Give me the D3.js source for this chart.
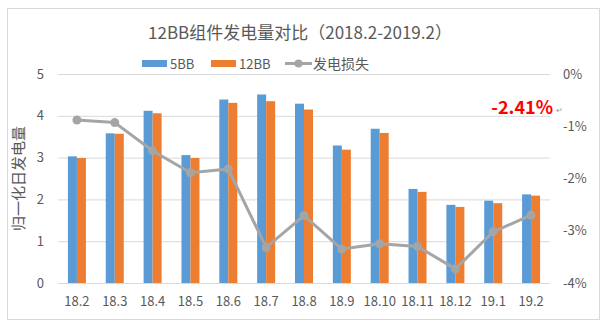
<!DOCTYPE html>
<html><head><meta charset="utf-8">
<script src="https://cdn.jsdelivr.net/npm/d3@7/dist/d3.min.js"></script>
<style>body{margin:0;background:#fff}svg{display:block}text{font-family:"Noto Sans CJK SC","Noto Sans",sans-serif}</style>
</head><body>
<svg id="c" width="606" height="324"></svg>
<script>
const categories = ["18.2","18.3","18.4","18.5","18.6","18.7","18.8","18.9","18.10","18.11","18.12","19.1","19.2"];
const bb5 = [3.03,3.58,4.12,3.06,4.39,4.51,4.29,3.29,3.69,2.25,1.87,1.97,2.12];
const bb12 = [2.99,3.57,4.06,2.99,4.31,4.35,4.15,3.19,3.59,2.18,1.82,1.91,2.09];
const loss = [-0.88,-0.93,-1.47,-1.89,-1.82,-3.32,-2.71,-3.35,-3.25,-3.30,-3.73,-3.02,-2.70];
const leftTicks = [0,1,2,3,4,5];
const rightTicks = [0,-1,-2,-3,-4];
const seriesNames = ["5BB","12BB"];
const colors = ["#5B9BD5","#ED7D31"];
const lineColor = "#A5A5A5";

const svg = d3.select("#c");
const L = 58, R = 550, T = 74, B = 283;

svg.append("rect").attr("x",7.5).attr("y",8.5).attr("width",592).attr("height",311)
  .attr("fill","#fff").attr("stroke","#d9d9d9");

const x = d3.scaleBand().domain(categories).range([L,R]).padding(0);
const xs = d3.scaleBand().domain(seriesNames).range([x.bandwidth()/2-9, x.bandwidth()/2+9]).padding(0);
const y = d3.scaleLinear().domain([0,5]).range([B,T]);
const y2 = d3.scaleLinear().domain([-4,0]).range([B,T]);

// gridlines
svg.append("g").selectAll("line").data(leftTicks).join("line")
  .attr("x1",L).attr("x2",R).attr("y1",d=>y(d)+0.5).attr("y2",d=>y(d)+0.5)
  .attr("stroke","#d9d9d9").attr("stroke-width",1);

// left axis
const la = svg.append("g").attr("transform",`translate(${L-14},0)`)
  .call(d3.axisLeft(y).tickValues(leftTicks).tickSize(0).tickPadding(0).tickFormat(d3.format("d")));
la.select(".domain").remove();
la.selectAll("text").attr("fill","#595959").style("font-size","13px");

// right axis
const ra = svg.append("g").attr("transform",`translate(${R+13},0)`)
  .call(d3.axisRight(y2).tickValues(rightTicks).tickSize(0).tickPadding(0).tickFormat(d=>d+"%"));
ra.select(".domain").remove();
ra.selectAll("text").attr("fill","#595959").style("font-size","13px");

// x axis
const xa = svg.append("g").attr("transform",`translate(0,${B+14})`)
  .call(d3.axisBottom(x).tickSize(0).tickPadding(0));
xa.select(".domain").remove();
xa.selectAll("text").attr("fill","#595959").style("font-size","13px");

// bars
const data = [bb5, bb12];
data.forEach((vals,si)=>{
  svg.append("g").selectAll("rect").data(vals).join("rect")
    .attr("x",(d,i)=>x(categories[i])+xs(seriesNames[si]))
    .attr("width",xs.bandwidth())
    .attr("y",d=>y(d)).attr("height",d=>y(0)-y(d))
    .attr("fill",colors[si]);
});

// line
const line = d3.line().x((d,i)=>x(categories[i])+x.bandwidth()/2).y(d=>y2(d));
svg.append("path").datum(loss).attr("d",line).attr("fill","none")
  .attr("stroke",lineColor).attr("stroke-width",3).attr("stroke-linejoin","round");
svg.append("g").selectAll("circle").data(loss).join("circle")
  .attr("cx",(d,i)=>x(categories[i])+x.bandwidth()/2).attr("cy",d=>y2(d)).attr("r",4.5)
  .attr("fill",lineColor);

// title
svg.append("text").attr("x",300).attr("y",39).attr("text-anchor","middle")
  .attr("fill","#595959").style("font-size","17px").text("12BB组件发电量对比（2018.2-2019.2）");

// y title
svg.append("text").attr("transform",`translate(24,${(T+B)/2}) rotate(-90)`).attr("text-anchor","middle")
  .attr("fill","#595959").style("font-size","15px").text("归一化日发电量");

// legend
const lg = svg.append("g");
lg.append("rect").attr("x",142).attr("y",60).attr("width",25).attr("height",7).attr("fill",colors[0]);
lg.append("text").attr("x",170).attr("y",68.5).attr("fill","#595959").style("font-size","13px").text("5BB");
lg.append("rect").attr("x",211).attr("y",60).attr("width",25).attr("height",7).attr("fill",colors[1]);
lg.append("text").attr("x",239).attr("y",68.5).attr("fill","#595959").style("font-size","13px").text("12BB");
lg.append("line").attr("x1",285).attr("x2",312).attr("y1",63.5).attr("y2",63.5).attr("stroke",lineColor).attr("stroke-width",3);
lg.append("circle").attr("cx",298.5).attr("cy",63.5).attr("r",4).attr("fill",lineColor);
lg.append("text").attr("x",313).attr("y",69).attr("fill","#595959").style("font-size","14px").text("发电损失");

// annotation
svg.append("text").attr("x",553).attr("y",114).attr("text-anchor","end").attr("fill","#FF0000").style("font-size","18px").style("font-weight","bold").text("-2.41%");
svg.append("text").attr("x",556).attr("y",113).attr("fill","#999").style("font-size","8px").text("↵");
</script>
</body></html>
